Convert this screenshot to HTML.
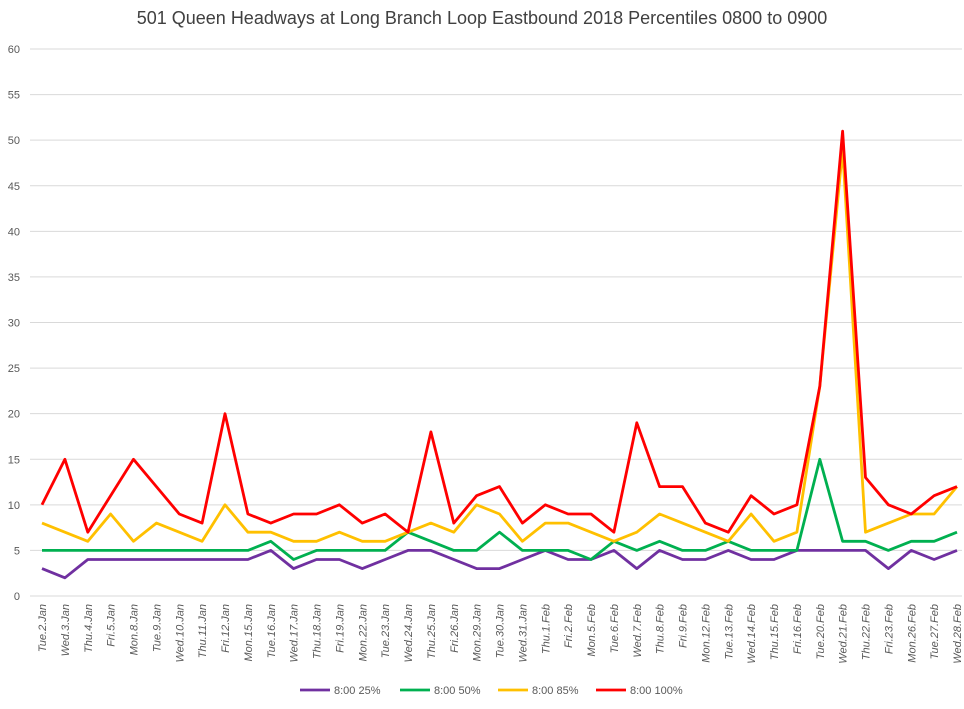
<!DOCTYPE html>
<html><head><meta charset="utf-8"><style>
body{margin:0;background:#fff;font-family:"Liberation Sans",sans-serif}
</style></head><body>
<svg id="chart" width="964" height="704" xmlns="http://www.w3.org/2000/svg">
<text x="482" y="24" text-anchor="middle" font-size="18" fill="#404040" font-family="Liberation Sans, sans-serif">501 Queen Headways at Long Branch Loop Eastbound 2018 Percentiles 0800 to 0900</text>
<g id="grid"></g><g id="xlabels"></g><g id="series"></g><g id="legend"></g>
</svg>
<script>
const categories=["Tue.2.Jan","Wed.3.Jan","Thu.4.Jan","Fri.5.Jan","Mon.8.Jan","Tue.9.Jan","Wed.10.Jan","Thu.11.Jan","Fri.12.Jan","Mon.15.Jan","Tue.16.Jan","Wed.17.Jan","Thu.18.Jan","Fri.19.Jan","Mon.22.Jan","Tue.23.Jan","Wed.24.Jan","Thu.25.Jan","Fri.26.Jan","Mon.29.Jan","Tue.30.Jan","Wed.31.Jan","Thu.1.Feb","Fri.2.Feb","Mon.5.Feb","Tue.6.Feb","Wed.7.Feb","Thu.8.Feb","Fri.9.Feb","Mon.12.Feb","Tue.13.Feb","Wed.14.Feb","Thu.15.Feb","Fri.16.Feb","Tue.20.Feb","Wed.21.Feb","Thu.22.Feb","Fri.23.Feb","Mon.26.Feb","Tue.27.Feb","Wed.28.Feb"];
const p25=[3,2,4,4,4,4,4,4,4,4,5,3,4,4,3,4,5,5,4,3,3,4,5,4,4,5,3,5,4,4,5,4,4,5,5,5,5,3,5,4,5];
const p50=[5,5,5,5,5,5,5,5,5,5,6,4,5,5,5,5,7,6,5,5,7,5,5,5,4,6,5,6,5,5,6,5,5,5,15,6,6,5,6,6,7];
const p85=[8,7,6,9,6,8,7,6,10,7,7,6,6,7,6,6,7,8,7,10,9,6,8,8,7,6,7,9,8,7,6,9,6,7,23,49,7,8,9,9,12];
const p100=[10,15,7,11,15,12,9,8,20,9,8,9,9,10,8,9,7,18,8,11,12,8,10,9,9,7,19,12,12,8,7,11,9,10,23,51,13,10,9,11,12];
const yTicks=[0,5,10,15,20,25,30,35,40,45,50,55,60];
const seriesNames=["8:00 25%","8:00 50%","8:00 85%","8:00 100%"];
const seriesColors=["#7030A0","#00B050","#FFC000","#FF0000"];
const NS="http://www.w3.org/2000/svg";
const X0=42,X1=957,Y0=596,Y1=49;
function xs(i){return X0+(X1-X0)*i/(categories.length-1);}
function ys(v){return Y0-(Y0-Y1)*v/60;}
function mk(t,a,p){const e=document.createElementNS(NS,t);for(const k in a)e.setAttribute(k,a[k]);p.appendChild(e);return e;}
const grid=document.getElementById('grid');
yTicks.forEach(v=>{
 const l=mk('line',{x1:30,x2:962,y1:ys(v),y2:ys(v),stroke:'#d9d9d9','stroke-width':1},grid);
 
 
 const t=mk('text',{x:20,y:ys(v)+4,'text-anchor':'end','font-size':11,fill:'#595959'},grid);
 t.textContent=v;
 
 
});
const xl=document.getElementById('xlabels');
categories.forEach((c,i)=>{
 const x=xs(i)+4,y=604;
 const t=mk('text',{x:x,y:y,transform:`rotate(-90 ${x} ${y})`,'text-anchor':'end','font-size':11,'font-style':'italic',fill:'#595959'},xl);
 t.textContent=c;
 
 
});
const sg=document.getElementById('series');
[p25,p50,p85,p100].forEach((d,s)=>{
 const pts=d.map((v,i)=>xs(i).toFixed(1)+','+ys(v).toFixed(1)).join(' ');
 const pl=mk('polyline',{points:pts,fill:'none',stroke:seriesColors[s],'stroke-width':2.8,'stroke-linejoin':'round'},sg);
 
 
});
const lg=document.getElementById('legend');
const lx=[300,400,498,596];
seriesNames.forEach((n,s)=>{
 const g=mk('g',{},lg);
 
 
 mk('line',{x1:lx[s],x2:lx[s]+30,y1:690,y2:690,stroke:seriesColors[s],'stroke-width':2.8},g);
 const t=mk('text',{x:lx[s]+34,y:694,'font-size':11,fill:'#595959'},g);
 t.textContent=n;
});
</script>
</body></html>
